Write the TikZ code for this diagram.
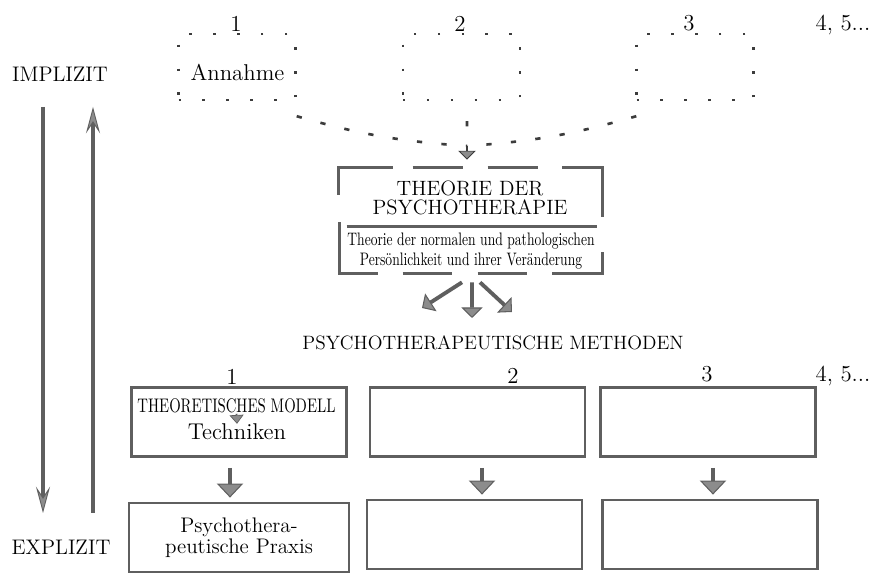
\documentclass[tikz,border=0pt]{standalone}
\usepackage{fontspec}
\usepackage{tikz}
\usetikzlibrary{arrows.meta,positioning}
\newfontfamily\narrowrm[FakeStretch=0.75]{lmroman10-regular.otf}
\definecolor{ptgray}{RGB}{95,95,95}
\definecolor{ptdark}{RGB}{60,60,60}
\definecolor{ptfill}{RGB}{140,140,140}
\tikzstyle{caption} = [inner sep=0pt, anchor=base, font=\fontsize{12}{14}\selectfont]
\tikzstyle{numlabel} = [inner sep=0pt, anchor=base, font=\fontsize{13}{15}\selectfont]
\tikzstyle{dotbox} = [rectangle, draw=ptdark, line width=1.4pt, dash pattern=on 1.4pt off 12.2pt, minimum width=2.34cm, minimum height=1.32cm, inner sep=0pt]
\tikzstyle{feedline} = [draw=ptdark, line width=1.5pt, dash pattern=on 3pt off 11pt]
\tikzstyle{feedarrow} = [draw=ptdark, line width=1.5pt, -{Triangle[width=10pt,length=5pt,line width=0.5pt,fill=ptfill]}]
\tikzstyle{theoframe} = [draw=ptgray, line width=1.4pt]
\tikzstyle{methodbox} = [rectangle, draw=ptgray, line width=1.6pt, minimum width=4.3cm, minimum height=1.38cm, align=center, inner sep=0pt]
\tikzstyle{fatarrow} = [draw=ptgray, line width=2.2pt, -{Triangle[width=12pt,length=6pt,line width=0.6pt,fill=ptfill]}]
\tikzstyle{downarrow} = [draw=ptgray, line width=2.3pt, shorten <=0.2cm, shorten >=0.08cm, -{Triangle[width=15pt,length=8pt,line width=0.6pt,fill=ptfill]}]
\tikzstyle{smallarrow} = [draw=ptgray, line width=1pt, -{Triangle[width=8pt,length=5pt,line width=0.4pt,fill=ptfill]}]
\tikzstyle{longarrow} = [draw=ptgray, line width=2pt, -{Stealth[length=15pt,width=8pt,inset=6pt,line width=0.5pt,fill=ptfill]}]

\begin{document}
\begin{tikzpicture}[x=0.02cm, y=-0.02cm]
\useasboundingbox (0,0) rectangle (873,573);

% Implizit / Explizit
\node[caption] (implizit) at (60,82) {IMPLIZIT};
\node[caption] (explizit) at (61,555) {EXPLIZIT};
\coordinate (downtop) at (43,107);
\coordinate (downbot) at (43,513);
\coordinate (upbot) at (93,513);
\coordinate (uptop) at (93,107);
\draw[longarrow] (downtop) -- (downbot);
\draw[longarrow] (upbot) -- (uptop);

% Annahmen
\node[dotbox] (ann1) at (237,67) {};
\node[dotbox] (ann2) at (461.5,67) {};
\node[dotbox] (ann3) at (695,67) {};
\node[caption, font=\fontsize{13}{15}\selectfont] (annahme) at (237.5,81) {Annahme};
\node[numlabel] (top1) at (236,32) {1};
\node[numlabel] (top2) at (460,32) {2};
\node[numlabel] (top3) at (689,31) {3};
\node[numlabel] (topmore) at (843,31) {4, 5...};

% Theorie der Psychotherapie
\node[minimum width=5.26cm, minimum height=2.1cm, inner sep=0pt] (theo) at (470.5,220.5) {};
\node[align=center, inner sep=0pt, font=\fontsize{11.8}{11.3}\selectfont] (theohead) at (470,198) {THEORIE DER\\PSYCHOTHERAPIE};
\node[align=center, inner sep=0pt, font=\narrowrm\fontsize{10.3}{11.3}\selectfont] (theosub) at (471,251) {Theorie der normalen und pathologischen\\Persönlichkeit und ihrer Veränderung};
\draw[theoframe] ([shift={(0,27)}]theo.north west) -- (theo.north west) -- ++(54,0);
\draw[theoframe] ([shift={(74,0)}]theo.north west) -- ++(50,0);
\draw[theoframe] ([shift={(149,0)}]theo.north west) -- ++(50,0);
\draw[theoframe] ([shift={(-40,0)}]theo.north east) -- (theo.north east) -- ++(0,49);
\draw[theoframe] ([shift={(8,59)}]theo.north west) -- ++(250,0);
\draw[theoframe] ([shift={(1,-51)}]theo.south west) -- ([shift={(1,0)}]theo.south west) -- ++(38,0);
\draw[theoframe] ([shift={(64,0)}]theo.south west) -- ++(49,0);
\draw[theoframe] ([shift={(139,0)}]theo.south west) -- ++(49,0);
\draw[theoframe] ([shift={(-50,0)}]theo.south east) -- (theo.south east) -- ++(0,-21);

% zusammenfuehren
\coordinate (meet) at (467,146);
\draw[feedline] ([shift={(0,15)}]ann1.south east) to[bend right=6] (meet);
\draw[feedline] ([shift={(1,15)}]ann3.south west) to[bend left=6] (meet);
\draw[feedline] ([shift={(5.5,20)}]ann2.south) -- (meet);
\draw[feedarrow] (meet) -- ([shift={(-3.5,-8)}]theo.north);

% Methoden
\coordinate (fanL) at (422,308);
\coordinate (fanM) at (472,318);
\coordinate (fanR) at (512,312);
\draw[fatarrow] ([shift={(-8.5,9)}]theo.south) -- (fanL);
\draw[fatarrow] ([shift={(1.5,9)}]theo.south) -- (fanM);
\draw[fatarrow] ([shift={(9.5,9)}]theo.south) -- (fanR);
\node[caption, font=\fontsize{11}{13}\selectfont] (methoden) at (493,350) {PSYCHOTHERAPEUTISCHE METHODEN};

\node[numlabel] (met1) at (232,385) {1};
\node[numlabel] (met2) at (513,384) {2};
\node[numlabel] (met3) at (707,382) {3};
\node[numlabel] (metmore) at (843,382) {4, 5...};

\node[methodbox] (m1) at (239,422) {};
\node[methodbox] (m2) at (477.5,422) {};
\node[methodbox] (m3) at (708,422) {};
\node[caption, font=\narrowrm\fontsize{11.2}{12}\selectfont] (modell) at (236.5,413) {THEORETISCHES MODELL};
\node[caption, font=\fontsize{13}{15}\selectfont] (technik) at (237,440) {Techniken};
\draw[smallarrow] (modell.south) -- (technik.north);

% Praxis
\node[methodbox, minimum width=4.4cm, font=\fontsize{12}{12}\selectfont] (p1) at (239,537.5) {Psychothera-\\peutische Praxis};
\node[methodbox] (p2) at (474.5,534.5) {};
\node[methodbox] (p3) at (710,534.5) {};
\foreach \m/\p/\dx in {m1/p1/-9, m2/p2/4.5, m3/p3/5} {
  \coordinate (from\m) at ([shift={(\dx,0)}]\m.south);
  \draw[downarrow] (from\m) -- (from\m |- \p.north);
}
\end{tikzpicture}
\end{document}
